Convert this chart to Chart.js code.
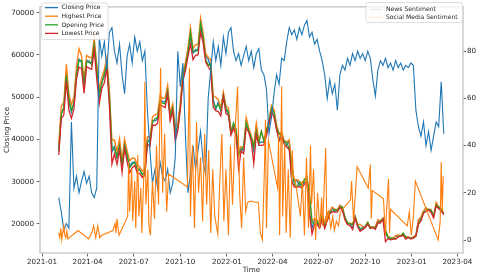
<!DOCTYPE html>
<html>
<head>
<meta charset="utf-8">
<script src="https://cdn.jsdelivr.net/npm/chart.js@4.4.1/dist/chart.umd.min.js"></script>
<style>
html, body { margin: 0; padding: 0; background: #fff; }
canvas { display: block; }
</style>
</head>
<body>
<canvas id="priceChart" width="478" height="274"></canvas>
<script>

/* DATA */

const priceDates = [
'2021-02-03','2021-02-08','2021-02-13','2021-02-18','2021-02-23','2021-02-28',
'2021-03-05','2021-03-10','2021-03-15','2021-03-20','2021-03-25','2021-03-30',
'2021-04-04','2021-04-09','2021-04-14','2021-04-19','2021-04-24','2021-04-29',
'2021-05-04','2021-05-09','2021-05-14','2021-05-19','2021-05-24','2021-05-29',
'2021-06-03','2021-06-08','2021-06-13','2021-06-18','2021-06-23','2021-06-28',
'2021-07-03','2021-07-08','2021-07-13','2021-07-18','2021-07-23','2021-07-28',
'2021-08-02','2021-08-07','2021-08-12','2021-08-17','2021-08-22','2021-08-27',
'2021-09-01','2021-09-06','2021-09-11','2021-09-16','2021-09-21','2021-09-26',
'2021-10-01','2021-10-06','2021-10-11','2021-10-16','2021-10-21','2021-10-26','2021-10-31',
'2021-11-05','2021-11-10','2021-11-15','2021-11-20','2021-11-25','2021-11-30',
'2021-12-05','2021-12-10','2021-12-15','2021-12-20','2021-12-25','2021-12-30',
'2022-01-04','2022-01-09','2022-01-14','2022-01-19','2022-01-24','2022-01-29',
'2022-02-03','2022-02-08','2022-02-13','2022-02-18','2022-02-23','2022-02-28',
'2022-03-05','2022-03-10','2022-03-15','2022-03-20','2022-03-25','2022-03-30',
'2022-04-04','2022-04-09','2022-04-14','2022-04-19','2022-04-24','2022-04-29',
'2022-05-04','2022-05-09','2022-05-14','2022-05-19','2022-05-24','2022-05-29',
'2022-06-03','2022-06-08','2022-06-13','2022-06-18','2022-06-23','2022-06-28',
'2022-07-03','2022-07-08','2022-07-13','2022-07-18','2022-07-23','2022-07-28',
'2022-08-02','2022-08-07','2022-08-12','2022-08-17','2022-08-22','2022-08-27',
'2022-09-01','2022-09-06','2022-09-11','2022-09-16','2022-09-21','2022-09-26',
'2022-10-01','2022-10-06','2022-10-11','2022-10-16','2022-10-21','2022-10-26','2022-10-31',
'2022-11-05','2022-11-10','2022-11-15','2022-11-20','2022-11-25','2022-11-30',
'2022-12-05','2022-12-10','2022-12-15','2022-12-20','2022-12-25','2022-12-30',
'2023-01-04','2023-01-09','2023-01-14','2023-01-19','2023-01-24','2023-01-29',
'2023-02-03','2023-02-08','2023-02-13','2023-02-18','2023-02-23','2023-02-28',
'2023-03-05'
];

const closingPrice = [
37600,46400,47200,56000,49000,46500,
48800,55900,59000,58300,52500,58800,
58200,58100,62800,56300,50100,53600,
55000,58200,49700,37000,38300,35600,
39000,33600,39000,35800,33700,34500,
34700,32900,32700,31800,32300,40000,
39200,44500,44400,44800,49300,49000,
48800,51800,45200,47700,40700,43200,
48200,55400,57500,60900,64500,60400,61300,
61000,66800,63600,59700,59000,57000,
49400,47100,48900,46700,50800,47100,
46000,41800,43100,41700,36700,37900,
37300,44000,42200,40100,37300,43200,
39100,39400,39300,41300,44400,47100,
46600,42800,39900,41500,39500,38600,
39700,30100,30100,30300,29100,29400,
29700,30200,22500,19000,21100,20300,
19300,21600,20200,22400,22600,23800,
23000,23200,24400,23300,21500,20000,
20100,18800,21800,19700,18500,19200,
19300,20200,19000,19200,19200,20800,20500,
21300,17600,16900,16300,16500,17200,
17000,17100,17400,16900,16800,16600,
16900,17200,20900,21100,22900,23700,
23400,22900,21800,24600,23900,23100,
22400
];

const highestPrice = [
38900,47800,48900,57800,50900,48200,
50100,57300,61500,59800,54200,59900,
59500,59200,64000,57900,51900,54700,
56500,59400,51600,39800,39900,37100,
40200,35100,40100,37300,34900,35600,
35500,34000,33500,32500,33000,40600,
40500,45300,45900,46000,50400,49700,
49900,52900,46200,48400,43000,43900,
48800,55800,58200,61700,66600,61500,62400,
62600,68800,65300,60400,59400,58900,
50400,50000,49400,47500,51200,48000,
47500,42300,43400,42500,37500,38300,
38000,45200,42700,40900,38700,43800,
39600,42000,39800,42200,44800,48100,
47100,43400,41500,41700,39700,39400,
39900,34200,30300,30500,30100,29500,
30600,30900,26800,20700,21200,20900,
19600,22500,20300,22700,23000,24000,
23400,23400,24400,24000,21600,20300,
20200,20000,21800,19900,19900,19300,
19400,20400,19200,19300,19300,21000,20700,
21400,18500,17100,16700,16600,17200,
17400,17200,17800,16900,16900,16600,
17000,17300,21000,21600,23100,23800,
23500,23400,21900,25100,24100,23600,
22600
];

const openingPrice = [
37000,45900,47600,55200,49600,46900,
48300,55400,58600,58700,53000,58200,
58600,57700,62400,56900,50700,53200,
55600,57800,50300,38200,37800,36000,
38500,34100,38600,36300,33300,34100,
34500,33300,32900,31600,32100,39400,
39700,44000,44900,45200,48900,48600,
48400,51400,45600,47300,42300,42800,
47600,54700,57000,60600,65300,60900,60800,
61500,67500,64200,59000,57600,57800,
48800,47600,48300,46900,50400,47500,
46500,41600,43900,42400,36200,37700,
38300,43900,42100,40500,38200,41900,
39100,41900,39500,42100,44100,47400,
46300,42700,41300,40800,39500,39300,
37700,34100,29300,28700,29900,28600,
30400,31100,26600,20400,20000,20700,
19300,21600,19300,20800,22900,22900,
23300,23200,23900,24000,21500,20200,
20000,19800,21600,19700,18900,18800,
19400,20300,19100,19200,19000,20300,20600,
21200,18500,16600,16700,16600,16400,
17100,17100,17800,16800,16800,16600,
16700,17100,19900,21100,22700,23000,
23400,23200,21800,24500,24000,23500,
22400
];

const lowestPrice = [
36300,44900,45800,53900,47000,45000,
47200,54300,57100,56800,50900,57200,
56900,56600,61200,54400,48500,52100,
53400,56900,47900,34200,36600,34100,
37600,32200,37800,34600,32100,33300,
33800,32000,31900,31000,31500,38900,
38300,43400,43300,43800,48200,47900,
47500,50600,44400,46800,39600,42000,
47000,53900,56100,59600,62600,58900,59900,
60000,65400,62900,58300,57200,56200,
47600,46800,46600,45600,50100,46100,
45700,41000,42600,41000,33000,37300,
36600,42700,41700,39500,34300,41200,
38600,38600,38700,40900,43500,46600,
45200,42300,39600,40600,38900,38200,
37600,30000,28700,28700,28800,28500,
29400,29900,22300,17600,19900,19900,
19000,21200,18900,20800,22300,22900,
22800,22800,23800,23200,20900,19800,
19600,18700,21400,19300,18200,18700,
19100,19900,18900,19100,18700,20200,20200,
21100,15800,16500,16200,16400,16400,
16900,17100,17300,16400,16800,16400,
16600,17100,19900,20700,22500,23000,
23300,22700,21400,24200,23600,23100,
22200
];

const newsSentiment = [
18,12,4,7,5,50,
22,27,20,25,29,24,
27,20,18,22,86,78,
84,72,88,90,80,75,
83,70,62,78,83,75,
86,80,84,76,80,55,
38,24,30,22,33,27,
25,30,20,24,35,80,
65,75,45,20,28,40,30,
38,46,33,28,60,72,
84,76,82,74,86,79,
88,90,80,76,79,74,
78,82,76,80,73,79,
81,72,70,64,45,52,
62,70,66,77,76,84,
90,87,89,85,90,87,
91,93,86,88,83,85,
80,76,70,60,68,62,
66,55,70,74,72,77,
74,79,76,80,77,79,
76,80,77,68,61,72,76,
74,77,73,75,72,76,
73,75,72,74,73,75,
74,55,48,44,50,40,
46,38,44,50,48,67,
45
];

const socialDates = [
'2021-02-03','2021-02-05','2021-02-07','2021-02-09','2021-02-11','2021-02-13','2021-02-15','2021-02-17','2021-02-19','2021-02-21',
'2021-03-13','2021-04-03','2021-04-09','2021-04-13','2021-04-17','2021-04-21','2021-04-25','2021-04-29',
'2021-05-21','2021-05-25','2021-05-27','2021-05-29','2021-06-02','2021-06-19','2021-06-21','2021-06-23','2021-06-27','2021-06-29',
'2021-07-03','2021-07-05','2021-07-09','2021-07-11','2021-07-15','2021-07-17','2021-07-21','2021-07-23','2021-07-25','2021-07-29','2021-07-31',
'2021-08-03','2021-08-07','2021-08-11','2021-08-15','2021-08-19','2021-08-23','2021-08-27','2021-08-31','2021-09-04','2021-09-08',
'2021-10-15','2021-10-19','2021-10-21','2021-10-25','2021-10-29','2021-11-02','2021-11-06','2021-11-10','2021-11-14','2021-11-18','2021-11-22','2021-11-26','2021-11-30',
'2021-12-04','2021-12-08','2021-12-14','2021-12-18','2021-12-22','2021-12-26','2021-12-30',
'2022-01-04','2022-01-08','2022-01-12','2022-01-18','2022-01-22','2022-01-26','2022-01-30','2022-02-03','2022-02-07','2022-02-11','2022-02-17','2022-02-26',
'2022-03-04','2022-03-08','2022-03-12','2022-03-16','2022-03-18','2022-03-20','2022-03-24','2022-04-11','2022-04-13','2022-04-15','2022-04-19','2022-04-21','2022-04-25','2022-04-28',
'2022-05-02','2022-05-06','2022-05-10','2022-05-12','2022-05-16','2022-05-26','2022-05-30','2022-06-03','2022-06-07','2022-06-11','2022-06-15','2022-06-17','2022-06-21','2022-06-25','2022-06-29',
'2022-07-03','2022-07-07','2022-07-09','2022-07-15','2022-07-17','2022-07-21','2022-07-25','2022-07-29','2022-08-01','2022-08-05','2022-08-09','2022-08-13',
'2022-09-02','2022-09-04','2022-09-08','2022-09-15','2022-10-07','2022-10-11','2022-10-13','2022-10-15',
'2022-11-06','2022-11-10','2022-11-12','2022-11-16','2022-11-18','2022-11-20','2022-12-23','2022-12-27','2022-12-31',
'2023-01-04','2023-01-08','2023-02-22','2023-02-26','2023-02-28','2023-03-02','2023-03-04'
];

const socialSentiment = [
3,1,5,0,3,6,2,1,4,0.5,
4,0.5,3,6,1,6,1,2,
4,7,3,9,2,10,33,12,30,8,
25,5,36,10,22,3,28,67,15,30,6,
2,25,9,40,15,73,20,45,12,28,
22.5,73,10,40,5,50,20,35,8,45,15,38,3,
30,10,2.5,25,45,8,30,
2,40,15,50,65,20,5,35,12,16,16.5,16,
16,3,0,30,51,5,42,22,45,2,65,10,41,3,
30,1,38,27,25,10,25,2,35,5,40,15,30,0,20,
5,18,6,39,8,12,5,10,4,8,6,12,
17,25,8,31,22,32,9,21,
17.5,2,12,26,3,13,6,12,2,
10,25,0,8,33,12,27
];

const tickDates = ['2021-01-01','2021-04-01','2021-07-01','2021-10-01','2022-01-01','2022-04-01','2022-07-01','2022-10-01','2023-01-01','2023-04-01'];
const priceTicks = [20000, 30000, 40000, 50000, 60000, 70000];
const sentimentTicks = [0, 20, 40, 60, 80];


/* HELPERS */

function toDay(s) {
  const p = s.split('-');
  return (Date.UTC(+p[0], +p[1] - 1, +p[2]) - Date.UTC(2021, 0, 1)) / 86400000;
}

function series(dates, values) {
  return dates.map((d, i) => ({ x: toDay(d), y: values[i] }));
}

function line(label, data, color, axis, width, order, extra) {
  return Object.assign({
    label: label,
    data: data,
    borderColor: color,
    backgroundColor: color,
    borderWidth: width,
    pointRadius: 0,
    tension: 0,
    fill: false,
    yAxisID: axis,
    order: order
  }, extra || {});
}


/* LEGENDS AND FRAME */

function drawLegend(ctx, items, x, y, w, h, firstRow, rowGap) {
  ctx.save();
  ctx.beginPath();
  ctx.roundRect(x, y, w, h, 2);
  ctx.fillStyle = 'rgba(255,255,255,0.8)';
  ctx.fill();
  ctx.strokeStyle = '#d6d6d6';
  ctx.lineWidth = 0.8;
  ctx.stroke();
  ctx.font = '6.1px "DejaVu Sans"';
  ctx.textBaseline = 'middle';
  items.forEach(function (item, i) {
    const ry = y + firstRow + i * rowGap;
    ctx.beginPath();
    ctx.setLineDash(item.legendDash || []);
    ctx.strokeStyle = item.legendColor || item.borderColor;
    ctx.lineWidth = 1.3;
    ctx.moveTo(x + 3.5, ry);
    ctx.lineTo(x + 16.5, ry);
    ctx.stroke();
    ctx.setLineDash([]);
    ctx.fillStyle = '#262626';
    ctx.fillText(item.label, x + 20, ry + 0.3);
  });
  ctx.restore();
}

const framePlugin = {
  id: 'frame',
  afterDatasetsDraw(chart) {
    const a = chart.chartArea;
    const ctx = chart.ctx;
    ctx.save();
    ctx.strokeStyle = '#cbcbcb';
    ctx.lineWidth = 1.5;
    ctx.strokeRect(a.left, a.top, a.right - a.left, a.bottom - a.top);
    ctx.restore();
  },
  afterDraw(chart) {
    const sets = chart.data.datasets;
    drawLegend(chart.ctx, sets.filter(d => d.yAxisID === 'y'), 41.5, 3, 66.5, 36.5, 4.6, 8.6);
    drawLegend(chart.ctx, sets.filter(d => d.yAxisID === 'y1'), 366, 2.5, 96.5, 20, 6.8, 8);
  }
};


/* CHART */

const tickFont = { family: 'DejaVu Sans', size: 7.2 };

new Chart(document.getElementById('priceChart'), {

  type: 'line',

  data: {
    datasets: [
      line('Closing Price', series(priceDates, closingPrice), '#1f77b4', 'y', 1.3, 5),
      line('Highest Price', series(priceDates, highestPrice), '#ff7f0e', 'y', 1.3, 4),
      line('Opening Price', series(priceDates, openingPrice), '#2ca02c', 'y', 1.3, 3),
      line('Lowest Price', series(priceDates, lowestPrice), '#d62728', 'y', 1.3, 2),
      line('News Sentiment', series(priceDates, newsSentiment), '#1f77b4', 'y1', 1.1, 1,
        { legendColor: 'rgba(31,119,180,0.12)' }),
      line('Social Media Sentiment', series(socialDates, socialSentiment), '#ff7f0e', 'y1', 1.1, 0,
        { legendColor: 'rgba(255,127,14,0.3)', legendDash: [1.5, 1.5] })
    ]
  },

  options: {
    responsive: false,
    devicePixelRatio: 1,
    animation: false,
    layout: { padding: { top: 2, left: 0, right: 0, bottom: 0 } },
    plugins: {
      legend: { display: false },
      tooltip: { enabled: false }
    },
    scales: {
      x: {
        type: 'linear',
        min: -4,
        max: 831,
        afterBuildTicks: s => { s.ticks = tickDates.map(d => ({ value: toDay(d) })); },
        afterFit: s => { s.height = 21; },
        grid: { drawOnChartArea: false, drawTicks: true, tickLength: 3.5, tickColor: '#444', tickWidth: 0.8 },
        border: { display: false },
        ticks: {
          autoSkip: false,
          maxRotation: 0,
          padding: 1,
          color: '#262626',
          font: tickFont,
          callback: (v, i) => tickDates[i].slice(0, 7)
        },
        title: { display: true, text: 'Time', color: '#262626', font: tickFont, padding: { top: 1, bottom: 0 } }
      },
      y: {
        position: 'left',
        min: 13100,
        max: 71400,
        afterBuildTicks: s => { s.ticks = priceTicks.map(v => ({ value: v })); },
        afterFit: s => { s.width = 40; },
        grid: { drawOnChartArea: false, drawTicks: true, tickLength: 3.5, tickColor: '#444', tickWidth: 0.8 },
        border: { display: false },
        ticks: { padding: 2.5, color: '#262626', font: tickFont, callback: v => String(v) },
        title: { display: true, text: 'Closing Price', color: '#262626', font: tickFont, padding: { top: 2.5, bottom: 0 } }
      },
      y1: {
        position: 'right',
        min: -5.5,
        max: 98.8,
        afterBuildTicks: s => { s.ticks = sentimentTicks.map(v => ({ value: v })); },
        afterFit: s => { s.width = 15; },
        grid: { drawOnChartArea: false, drawTicks: true, tickLength: 3, tickColor: '#444', tickWidth: 0.8 },
        border: { display: false },
        ticks: { padding: 1, color: '#262626', font: tickFont, callback: v => String(v) }
      }
    }
  },

  plugins: [framePlugin]

});

</script>
</body>
</html>
